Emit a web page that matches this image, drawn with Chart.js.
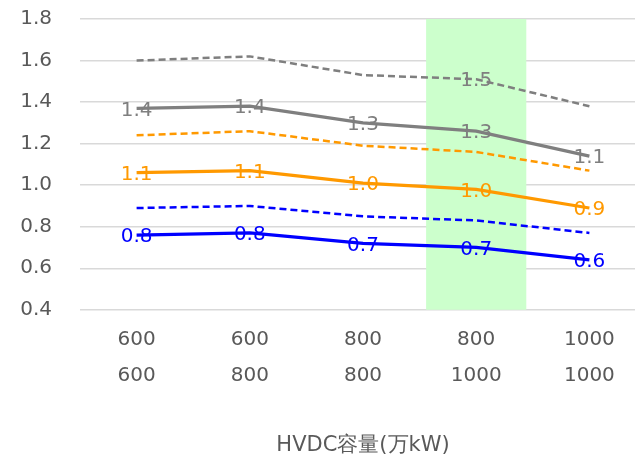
<!DOCTYPE html>
<html>
<head>
<meta charset="utf-8">
<script src="https://cdn.jsdelivr.net/npm/chart.js@4"></script>
<style>
  html, body { margin: 0; padding: 0; background: #fff; overflow: hidden; }
  #wrap { width: 635px; height: 458px; overflow: hidden; }
</style>
</head>
<body>
<div id="wrap"><canvas id="chart" width="646" height="458"></canvas></div>
<script>
// categories (two-row labels: upper / lower HVDC capacity)
var categories = [['600', '600'], ['600', '800'], ['800', '800'], ['800', '1000'], ['1000', '1000']];

var grayDashed = [1.60, 1.62, 1.53, 1.51, 1.38];
var graySolid = [1.37, 1.38, 1.30, 1.26, 1.14];
var orangeDashed = [1.24, 1.26, 1.19, 1.16, 1.07];
var orangeSolid = [1.06, 1.07, 1.01, 0.98, 0.89];
var blueDashed = [0.89, 0.90, 0.85, 0.83, 0.77];
var blueSolid = [0.76, 0.77, 0.72, 0.70, 0.64];

// which points get a value label
var grayDashedLabels = [false, false, false, true, false];
var allLabels = [true, true, true, true, true];
var noLabels = [false, false, false, false, false];

// highlighted column (green band)
var highlight = [null, null, null, 1.8, null];

var yTicks = [0.4, 0.6, 0.8, 1.0, 1.2, 1.4, 1.6, 1.8];

function lineSet(data, color, dashed, labels) {
    return {
        type: 'line',
        data: data,
        borderColor: color,
        borderWidth: dashed ? 2.5 : 3.25,
        borderDash: dashed ? [7, 4] : [],
        pointRadius: 0,
        fill: false,
        tension: 0,
        order: 0,
        showLabels: labels
    };
}

var valueLabels = {
    id: 'valueLabels',
    afterDatasetsDraw: function (chart) {
        var ctx = chart.ctx;
        ctx.save();
        ctx.font = '20px "DejaVu Sans"';
        ctx.textAlign = 'center';
        ctx.textBaseline = 'middle';
        chart.data.datasets.forEach(function (ds, di) {
            if (!ds.showLabels) return;
            var meta = chart.getDatasetMeta(di);
            meta.data.forEach(function (pt, i) {
                if (!ds.showLabels[i]) return;
                ctx.fillStyle = ds.borderColor;
                ctx.fillText(ds.data[i].toFixed(1), pt.x, pt.y + 2);
            });
        });
        ctx.restore();
    }
};

var ctx = document.getElementById('chart').getContext('2d');
var chart = new Chart(ctx, {
    type: 'bar',
    data: {
        labels: categories,
        datasets: [
            {
                type: 'bar',
                data: highlight,
                backgroundColor: '#ccffcc',
                borderWidth: 0,
                categoryPercentage: 1,
                barPercentage: 0.885,
                order: 10
            },
            lineSet(grayDashed, '#7f7f7f', true, grayDashedLabels),
            lineSet(graySolid, '#7f7f7f', false, allLabels),
            lineSet(orangeDashed, '#ff9900', true, noLabels),
            lineSet(orangeSolid, '#ff9900', false, allLabels),
            lineSet(blueDashed, '#0000ff', true, noLabels),
            lineSet(blueSolid, '#0000ff', false, allLabels)
        ]
    },
    options: {
        responsive: false,
        animation: false,
        events: [],
        layout: { padding: { top: 19, right: 0, left: 0, bottom: 0 } },
        plugins: {
            legend: { display: false },
            tooltip: { enabled: false }
        },
        scales: {
            x: {
                grid: { display: false },
                border: { display: false },
                ticks: {
                    color: '#595959',
                    font: { family: 'DejaVu Sans', size: 20, lineHeight: 1.8 },
                    padding: 4,
                    maxRotation: 0
                },
                title: {
                    display: true,
                    text: 'HVDC容量(万kW)',
                    color: '#595959',
                    font: { family: 'DejaVu Sans', size: 21 },
                    padding: { top: 35, bottom: 0 }
                }
            },
            y: {
                min: 0.4,
                max: 1.8,
                afterBuildTicks: function (scale) {
                    scale.ticks = yTicks.map(function (v) { return { value: v }; });
                },
                afterFit: function (scale) {
                    scale.width = 80;
                    scale.paddingTop = 0;
                    scale.paddingBottom = 0;
                },
                grid: { color: '#d9d9d9', lineWidth: 1.5, drawTicks: false },
                border: { display: false },
                ticks: {
                    color: '#595959',
                    font: { family: 'DejaVu Sans', size: 20 },
                    padding: 28,
                    callback: function (v) { return v.toFixed(1); }
                }
            }
        }
    },
    plugins: [valueLabels]
});
</script>
</body>
</html>
